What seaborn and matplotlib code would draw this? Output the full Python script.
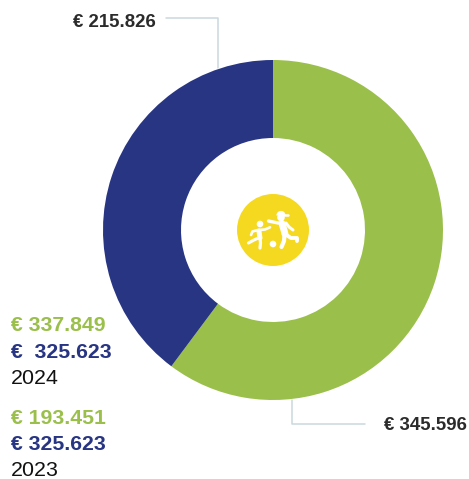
import matplotlib
matplotlib.use("Agg")
import matplotlib.pyplot as plt
from matplotlib.patches import Circle, Wedge
import seaborn as sns

segments = ["Green", "Blue"]
shares = [60.2, 39.8]
colors = ["#9ABF4B", "#283583"]
callouts = ["€ 345.596", "€ 215.826"]
green_values = ["€ 337.849", "€ 193.451"]
blue_values = ["€  325.623", "€ 325.623"]
years = ["2024", "2023"]

sns.set_theme(style="white")
plt.rcParams["font.family"] = ["Liberation Sans", "DejaVu Sans"]

W, H = 469, 479
fig = plt.figure(figsize=(W / 100, H / 100), dpi=100, facecolor="white")
ax = fig.add_axes([0, 0, 1, 1])

cx, cy, R, r = 273, 230, 170, 92
ax.pie(shares, colors=colors, startangle=90, counterclock=False, center=(cx, H - cy),
       radius=R, wedgeprops=dict(width=R - r, linewidth=0), frame=True)
ax.set_xlim(0, W)
ax.set_ylim(0, H)
ax.set_aspect("equal")
ax.axis("off")

def Y(y):
    return H - y

# Leader lines
lc = "#C9D8DC"
ax.plot([166, 218, 218], [Y(18), Y(18), Y(68)], color=lc, lw=1.1, zorder=1)
ax.plot([292, 292, 365], [Y(400), Y(424), Y(424)], color=lc, lw=1.1, zorder=1)

dark = "#2B2B2B"
ax.text(73, Y(22.5), callouts[1], fontsize=13.4, fontweight="bold", color=dark, va="center", ha="left")
ax.text(384, Y(425.5), callouts[0], fontsize=13.4, fontweight="bold", color=dark, va="center", ha="left")

# Side legend
fs = 15.3
fy = 15.4
ax.text(10.5, Y(325.5), green_values[0], fontsize=fs, fontweight="bold", color=colors[0], va="center")
ax.text(10.5, Y(352), blue_values[0], fontsize=fs, fontweight="bold", color=colors[1], va="center")
ax.text(10.5, Y(378), years[0], fontsize=fy, color="#111111", va="center")
ax.text(10.5, Y(418.5), green_values[1], fontsize=fs, fontweight="bold", color=colors[0], va="center")
ax.text(10.5, Y(445), blue_values[1], fontsize=fs, fontweight="bold", color=colors[1], va="center")
ax.text(10.5, Y(470.5), years[1], fontsize=fy, color="#111111", va="center")

# Center icon
ax.add_patch(Circle((273, Y(230)), 36, fc="#F5D920", ec="none", zorder=3))
def limb(xs, ys, lw=3.0):
    ax.plot(xs, [Y(v) for v in ys], color="white", lw=lw, solid_capstyle="round",
            solid_joinstyle="round", zorder=4)

# Adult
ax.add_patch(Circle((281, Y(217.5)), 3.8, fc="white", ec="none", zorder=4))
ax.add_patch(Wedge((281, Y(215.5)), 4.6, 0, 180, fc="white", ec="none", zorder=4))
limb([281, 288], [214.8, 214.8], 1.8)
limb([268.5, 278, 283], [221, 223, 223], 2.4)
limb([282, 284, 285], [223.5, 230, 234], 5.0)
limb([286, 289, 293], [223, 227, 230], 2.2)
limb([285, 291, 297, 297], [234, 238, 238, 241], 2.8)
limb([284.5, 284, 281.5], [235, 241, 247], 3.0)
# Ball
ax.add_patch(Circle((273, Y(244)), 3.3, fc="white", ec="none", zorder=4))
# Child
ax.add_patch(Circle((260, Y(224)), 3.3, fc="white", ec="none", zorder=4))
limb([259, 259.5, 260], [231, 235, 238], 3.6)
limb([259, 265, 270], [230, 229.5, 227.3], 1.9)
limb([258, 252.5, 251], [230, 231.5, 235], 1.9)
limb([258.5, 254, 248.5], [238, 240, 243], 2.2)
limb([260, 260.5, 260], [238, 243, 248], 2.3)

fig.savefig("out.png", dpi=100, facecolor="white")
